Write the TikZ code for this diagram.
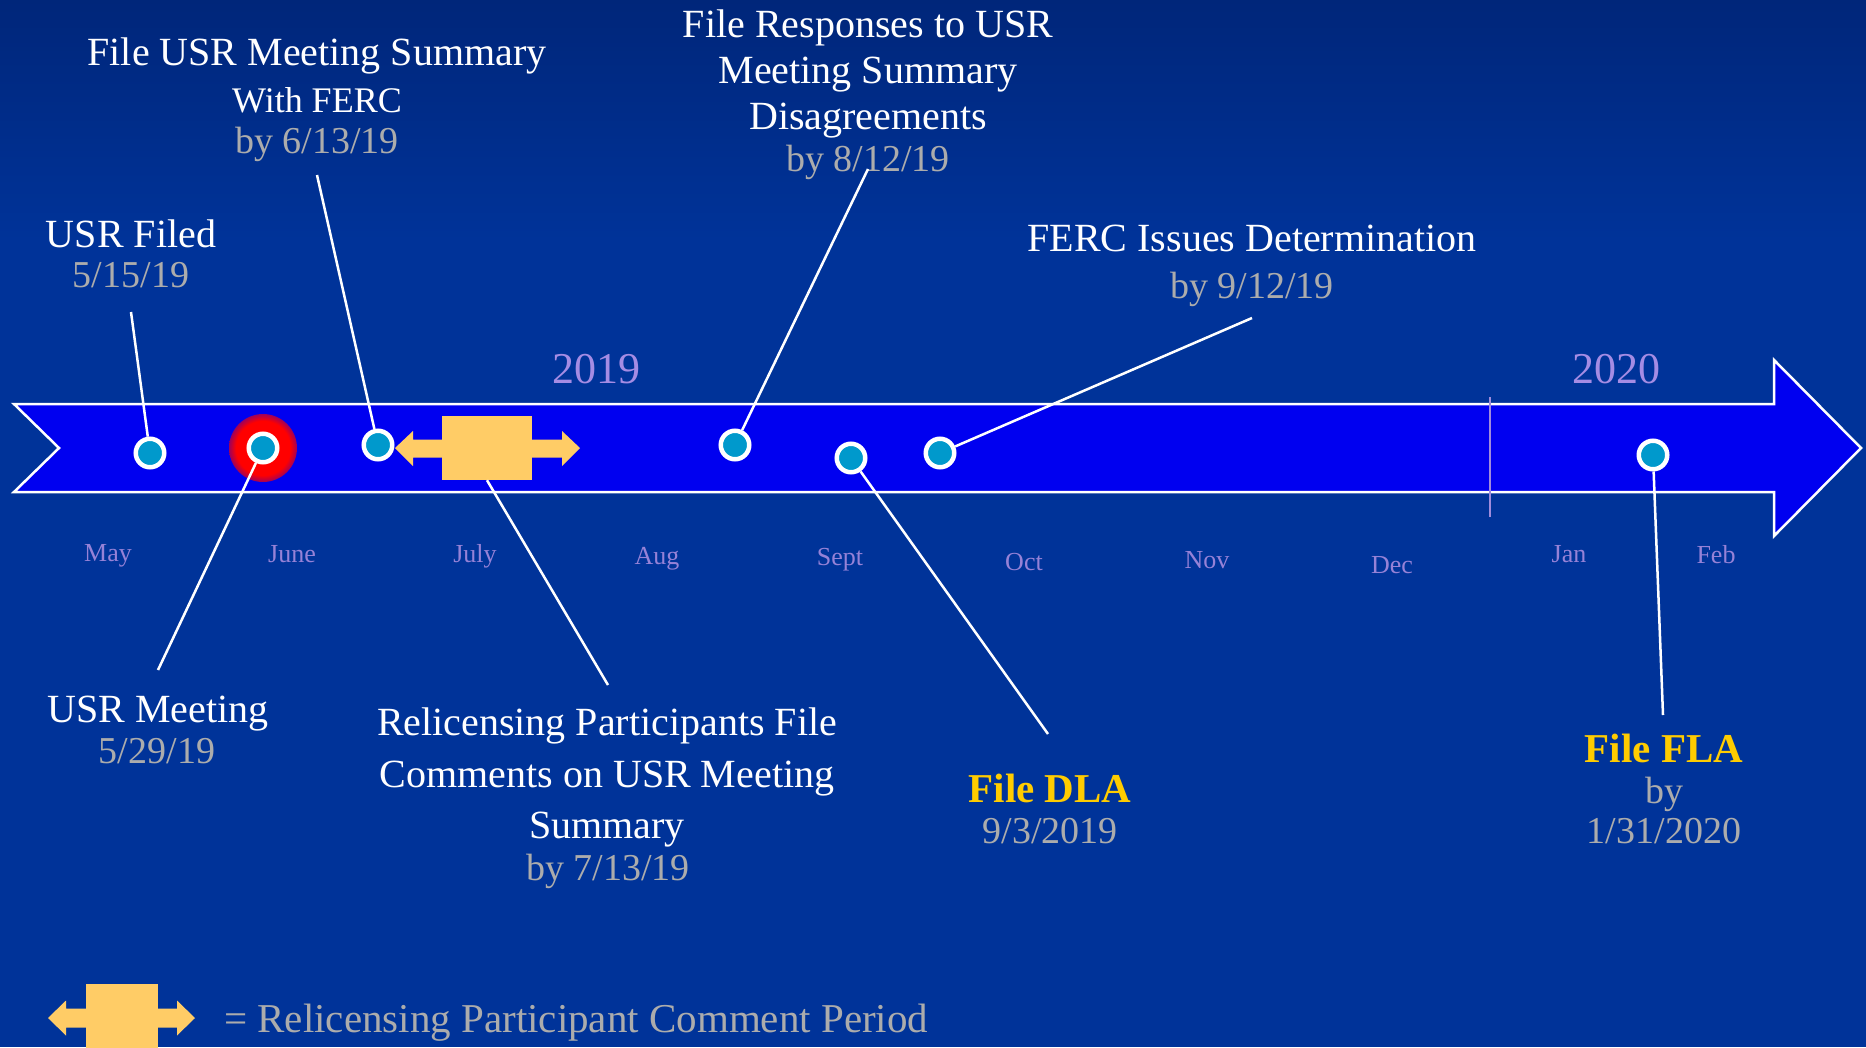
\documentclass[tikz,border=0pt]{standalone}
\usepackage{fontspec}
\setmainfont{Liberation Serif}
\definecolor{bgc}{RGB}{0,51,153}
\definecolor{bgtop}{RGB}{0,38,122}
\definecolor{bandblue}{RGB}{0,0,240}
\definecolor{tealc}{RGB}{0,153,204}
\definecolor{goldt}{RGB}{255,204,0}
\definecolor{grayt}{RGB}{172,172,172}
\definecolor{yearc}{RGB}{165,140,228}
\definecolor{monthc}{RGB}{150,130,215}
\definecolor{cpo}{RGB}{255,204,102}
\definecolor{divc}{RGB}{160,140,220}
\pgfdeclareradialshading{glowshade}{\pgfpoint{0bp}{0bp}}{color(0bp)=(red); color(20bp)=(red); color(26bp)=(red!55!bandblue); color(31bp)=(bandblue); color(50bp)=(bandblue)}
\tikzset{
  lbl/.style={inner sep=0pt, anchor=base, text=white, font=\fontsize{40pt}{48pt}\selectfont},
  lblsm/.style={lbl, font=\fontsize{36pt}{44pt}\selectfont},
  datel/.style={inner sep=0pt, anchor=base, text=grayt, font=\fontsize{38pt}{46pt}\selectfont},
  keyl/.style={inner sep=0pt, anchor=base, text=goldt, font=\fontsize{41pt}{48pt}\selectfont\bfseries},
  monthl/.style={inner sep=0pt, anchor=base, text=monthc, font=\fontsize{26pt}{32pt}\selectfont},
  yearl/.style={inner sep=0pt, anchor=base, text=yearc, font=\fontsize{44pt}{52pt}\selectfont},
  dot/.style={circle, fill=tealc, draw=white, line width=4.5pt, minimum size=28.5pt, inner sep=0pt},
  conn/.style={draw=white, line width=2.5pt},
  cpbox/.style={rectangle, fill=cpo, inner sep=0pt},
}
\begin{document}
\begin{tikzpicture}[x=1pt,y=-1pt]
\useasboundingbox (0,0) rectangle (1866,1047);
% background
\fill[bgc] (0,0) rectangle (1866,1047);
\shade[top color=bgtop, bottom color=bgc] (0,0) rectangle (1866,240);
% timeline band
\draw[fill=bandblue, draw=white, line width=2.5pt, line join=miter]
  (14,404) -- (1774,404) -- (1774,360) -- (1861,448) -- (1774,536) -- (1774,492) -- (14,492) -- (59,448) -- cycle;
% year divider
\draw[divc, line width=2.5pt] (1490,397) -- (1490,517);
% glow
\shade[shading=glowshade] (263,448) circle (34pt);
% comment period shape
\fill[cpo] (395,448) -- (413,431) -- (413,439.5) -- (450,439.5) -- (450,457.5) -- (413,457.5) -- (413,466) -- cycle;
\fill[cpo] (580,448) -- (562,431) -- (562,439.5) -- (525,439.5) -- (525,457.5) -- (562,457.5) -- (562,466) -- cycle;
\node[cpbox, minimum width=90pt, minimum height=64pt] (cp) at (487,448) {};
% dots
\node[dot] (d1) at (150,453) {};
\node[dot] (d2) at (263,448) {};
\node[dot] (d3) at (378,445) {};
\node[dot] (d4) at (735,445) {};
\node[dot] (d5) at (851,458) {};
\node[dot] (d6) at (940,453) {};
\node[dot] (d7) at (1653,455) {};
% years
\node[yearl] (y19) at (596,383) {2019};
\node[yearl] (y20) at (1616,383) {2020};
% months
\node[monthl] (mMay) at (108,561) {May};
\node[monthl] (mJun) at (292,562) {June};
\node[monthl] (mJul) at (475,562) {July};
\node[monthl] (mAug) at (657,564) {Aug};
\node[monthl] (mSep) at (840,565) {Sept};
\node[monthl] (mOct) at (1024,570) {Oct};
\node[monthl] (mNov) at (1207,568) {Nov};
\node[monthl] (mDec) at (1392,573) {Dec};
\node[monthl] (mJan) at (1569,562) {Jan};
\node[monthl] (mFeb) at (1716,563) {Feb};
% top labels
\node[lbl] (t1a) at (317,65) {File USR Meeting Summary};
\node[lblsm] (t1b) at (317,112) {With FERC};
\node[datel] (t1c) at (317,153) {by 6/13/19};
\node[lbl] (t2a) at (131,247) {USR Filed};
\node[datel] (t2b) at (131,287) {5/15/19};
\node[lbl] (t3a) at (868,37) {File Responses to USR};
\node[lbl] (t3b) at (868,83) {Meeting Summary};
\node[lbl] (t3c) at (868,129) {Disagreements};
\node[datel] (t3d) at (868,171) {by 8/12/19};
\node[lbl] (t4a) at (1252,251) {FERC Issues Determination};
\node[datel] (t4b) at (1252,298) {by 9/12/19};
% bottom labels
\node[lbl] (b1a) at (158,722) {USR Meeting};
\node[datel] (b1b) at (157,763) {5/29/19};
\node[lbl] (b2a) at (607,735) {Relicensing Participants File};
\node[lbl] (b2b) at (607,787) {Comments on USR Meeting};
\node[lbl] (b2c) at (607,838) {Summary};
\node[datel] (b2d) at (608,880) {by 7/13/19};
\node[keyl] (b3a) at (1050,802) {File DLA};
\node[datel] (b3b) at (1050,843) {9/3/2019};
\node[keyl] (b4a) at (1664,762) {File FLA};
\node[datel] (b4b) at (1664,803) {by};
\node[datel] (b4c) at (1664,843) {1/31/2020};
% connector ends
\coordinate (e1) at (131,312);
\coordinate (e2) at (158,670);
\coordinate (e3) at (317,175);
\coordinate (e4) at (868,169);
\coordinate (e5) at (1252,318);
\coordinate (e6) at (1048,734);
\coordinate (e7) at (608,685);
\coordinate (e8) at (1663,715);
% connectors
\draw[conn] (e1) -- (d1);
\draw[conn] (d2) -- (e2);
\draw[conn] (e3) -- (d3);
\draw[conn] (e4) -- (d4);
\draw[conn] (e5) -- (d6);
\draw[conn] (d5) -- (e6);
\draw[conn] (cp.south) -- (e7);
\draw[conn] (d7) -- (e8);
% legend
\fill[cpo] (48,1018) -- (66,1000.5) -- (66,1008.5) -- (95,1008.5) -- (95,1027.5) -- (66,1027.5) -- (66,1035.5) -- cycle;
\fill[cpo] (195,1018) -- (177,1000.5) -- (177,1008.5) -- (150,1008.5) -- (150,1027.5) -- (177,1027.5) -- (177,1035.5) -- cycle;
\node[cpbox, minimum width=71.5pt, minimum height=68pt] (lg) at (122,1018) {};
\node[datel, anchor=base west, font=\fontsize{41pt}{48pt}\selectfont] (lgt) at (224,1032) {= Relicensing Participant Comment Period};
\end{tikzpicture}
\end{document}
